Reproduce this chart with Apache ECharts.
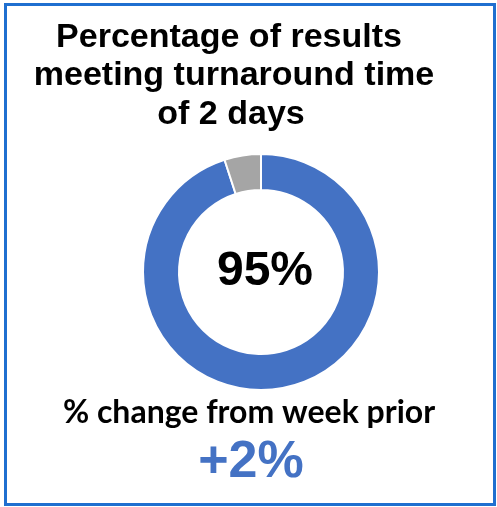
<!DOCTYPE html>
<html>
<head>
<meta charset="utf-8">
<script src="https://cdn.jsdelivr.net/npm/echarts@6/dist/echarts.min.js"></script>
<style>
  html, body { margin: 0; padding: 0; background: #fff; }
  #chart { width: 497px; height: 507px; }
</style>
</head>
<body>
<div id="chart"></div>
<script>
// values
const sliceNames = ['Met', 'Not met'];
const sliceValues = [95, 5];
const sliceColors = ['#4472C4', '#A5A5A5'];
const titleLines = ['Percentage of results', 'meeting turnaround time', 'of 2 days'];
const centerLabel = '95%';
const changeLabel = '% change from week prior';
const changeValue = '+2%';

const ARIAL = "'Liberation Sans', Arial, sans-serif";

const chart = echarts.init(document.getElementById('chart'));

// each title line is centred a little differently in the original
const titleX = [229, 234, 231];
const titleY = [37.5, 76, 114.5];

const titleTexts = titleLines.map((t, i) => ({
    type: 'text',
    x: titleX[i], y: titleY[i],
    style: {
        text: t,
        fontFamily: ARIAL,
        fontWeight: 'bold',
        fontSize: 34,
        fill: '#000',
        align: 'center',
        verticalAlign: 'middle'
    }
}));

const option = {
    backgroundColor: '#ffffff',
    animation: false,
    graphic: [
        {
            type: 'rect',
            shape: { x: 5.5, y: 4.5, width: 489, height: 500 },
            style: { fill: 'none', stroke: '#1F6FD0', lineWidth: 3 },
            silent: true
        },
        ...titleTexts,
        {
            type: 'text',
            x: 249, y: 413,
            style: {
                text: changeLabel,
                fontFamily: "Lato, 'Open Sans', sans-serif",
                fontWeight: 'bold',
                fontSize: 32,
                fill: '#000',
                align: 'center',
                verticalAlign: 'middle'
            }
        },
        {
            type: 'text',
            x: 251, y: 463,
            style: {
                text: changeValue,
                fontFamily: ARIAL,
                fontWeight: 'bold',
                fontSize: 52,
                fill: '#4472C4',
                align: 'center',
                verticalAlign: 'middle'
            }
        }
    ],
    series: [
        {
            type: 'pie',
            center: [261, 272],
            radius: [82, 118],
            startAngle: 90,
            clockwise: true,
            silent: true,
            label: {
                show: true,
                position: 'center',
                formatter: () => centerLabel,
                fontFamily: ARIAL,
                fontWeight: 'bold',
                fontSize: 48,
                color: '#000',
                offset: [4, 0]
            },
            labelLine: { show: false },
            itemStyle: { borderColor: '#fff', borderWidth: 2 },
            data: sliceNames.map((n, i) => ({
                name: n,
                value: sliceValues[i],
                itemStyle: { color: sliceColors[i] },
                label: { show: i === 0 }
            }))
        }
    ]
};

chart.setOption(option);
</script>
</body>
</html>
